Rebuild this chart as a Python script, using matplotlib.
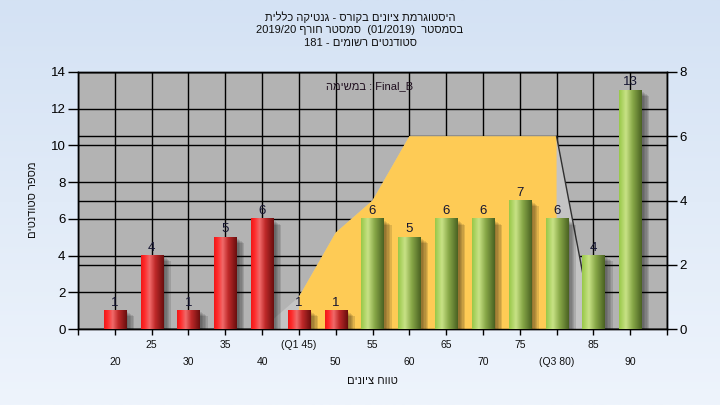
import numpy as np
import matplotlib
matplotlib.use("Agg")
import matplotlib.pyplot as plt
from matplotlib.patches import Rectangle, Polygon

plt.rcParams['font.family'] = ['Liberation Sans', 'DejaVu Sans']

# ---------------- data ----------------
categories = [20, 25, 30, 35, 40, 45, 50, 55, 60, 65, 70, 75, 80, 85, 90]
tick_labels = ["20", "25", "30", "35", "40", "(Q1 45)", "50", "55", "60", "65",
               "70", "75", "(Q3 80)", "85", "90"]
counts = [1, 4, 1, 5, 6, 1, 1, 6, 5, 6, 6, 7, 6, 4, 13]
fail_mask = [True, True, True, True, True, True, True,
             False, False, False, False, False, False, False, False]
# background area series (right axis)
area_vals = [0, 0, 0, 0, 0, 1, 3, 4, 6, 6, 6, 6, 6, 0, 0]
q1_index, q3_index = 5, 12

title_lines = ["היסטוגרמת ציונים בקורס - גנטיקה כללית",
               "בסמסטר  (01/2019)  סמסטר חורף 2019/20",
               "סטודנטים רשומים - 181"]
legend_text = "Final_B : במשימה"
xlabel = "טווח ציונים"
ylabel = "מספר סטודנטים"


def vis(s):
    """Convert logical RTL Hebrew string into visual order for LTR renderer."""
    toks = s.split(' ')
    out = []
    for t in reversed(toks):
        if any('\u0590' <= c <= '\u05FF' for c in t):
            out.append(t[::-1])
        else:
            out.append(t)
    return ' '.join(out)


# ---------------- figure ----------------
fig = plt.figure(figsize=(7.2, 4.05), dpi=100)

# background gradient
bg = fig.add_axes([0, 0, 1, 1], zorder=-10)
grad = np.linspace(0, 1, 256)[:, None]
top_c = np.array([0xD4, 0xE2, 0xF4]) / 255
bot_c = np.array([0xEE, 0xF4, 0xFC]) / 255
img = top_c[None, None, :] * (1 - grad[:, :, None]) + bot_c[None, None, :] * grad[:, :, None]
bg.imshow(img, aspect='auto', extent=[0, 1, 0, 1])
bg.axis('off')

L, R, T, B = 78, 667, 72, 329
ax = fig.add_axes([L / 720, 1 - B / 405, (R - L) / 720, (B - T) / 405])
ax2 = ax.twinx()
ax2.set_zorder(1)
ax.set_zorder(2)
ax.patch.set_visible(False)
ax2.patch.set_visible(True)
ax2.patch.set_facecolor('#B3B3B3')

n = len(categories)
x = np.arange(n)
ax.set_xlim(-1, n)
ax.set_ylim(0, 14)
ax2.set_ylim(0, 8)

# grids
ax.set_axisbelow(True)
ax.set_yticks(np.arange(0, 15, 2))
ax.set_xticks(np.arange(-1, n + 1))
ax.set_xticklabels([])
ax.grid(True, color='black', linewidth=1.0)
ax2.set_yticks(np.arange(0, 9, 2))
ax2.grid(True, axis='y', color='black', linewidth=1.0)

# area series (right axis scale)
pts = [(x[0], 0)] + list(zip(x, area_vals)) + [(x[-1], 0)]
ax.add_patch(Polygon(pts, closed=True, facecolor='#C4C4C4', edgecolor='none',
                     transform=ax2.transData, zorder=1.5))
ypts = [(x[q1_index], 0)] + list(zip(x[q1_index:q3_index + 1], area_vals[q1_index:q3_index + 1])) + [(x[q3_index], 0)]
ax.add_patch(Polygon(ypts, closed=True, facecolor='#FECB55', edgecolor='none',
                     transform=ax2.transData, zorder=1.6))
ax.plot(x[q3_index:q3_index + 2], area_vals[q3_index:q3_index + 2], color='#303030',
        linewidth=1.0, transform=ax2.transData, zorder=1.7)


def make_grad(stops, N=64):
    pos = np.array([s[0] for s in stops])
    cols = np.array([[int(s[1][i:i + 2], 16) / 255 for i in (1, 3, 5)] for s in stops])
    t = np.linspace(0, 1, N)
    arr = np.stack([np.interp(t, pos, cols[:, k]) for k in range(3)], axis=-1)
    return arr[None, :, :]


red_grad = make_grad([(0.0, '#F01818'), (0.15, '#FF2A2A'), (0.38, '#F06a6a'),
                      (0.62, '#C02a2a'), (1.0, '#6A0E0E')])
green_grad = make_grad([(0.0, '#98C848'), (0.3, '#C8E286'), (0.6, '#88A848'),
                        (1.0, '#4A6222')])

w = 0.6
px_x = 1 / 36.8
px_y = 14 / 257
for i, v in enumerate(counts):
    # shadow
    for k, a in enumerate([0.09, 0.09, 0.09, 0.10, 0.12]):
        off = 2.5 + k * 1.4
        ax.add_patch(Rectangle((i - w / 2 + off * px_x, -off * 0.7 * px_y), w, v,
                               facecolor='black', alpha=a, edgecolor='none', zorder=3))
    g = red_grad if fail_mask[i] else green_grad
    ax.imshow(g, extent=[i - w / 2, i + w / 2, 0, v], aspect='auto',
              interpolation='bilinear', zorder=4)
    ax.annotate(str(v), (i, v), xytext=(0, 2), textcoords='offset pixels',
                ha='center', va='bottom', fontsize=9.5, color='#141430', zorder=6)

ax.set_xlim(-1, n)
ax.set_ylim(0, 14)
ax2.set_ylim(0, 8)

# x tick labels in two rows
for i, lab in enumerate(tick_labels):
    off = -33 if i % 2 == 0 else -16
    ax.annotate(lab, (i, 0), xycoords=('data', 'axes fraction'), xytext=(0, off),
                textcoords='offset pixels', ha='center', va='center',
                fontsize=7.5, color='#101010', annotation_clip=False)

for a in (ax, ax2):
    for s in a.spines.values():
        s.set_color('black')
        s.set_linewidth(1.0)
ax.tick_params(axis='y', direction='out', length=7, width=1, labelsize=9.5,
               colors='black', pad=2)
ax.tick_params(axis='x', direction='out', length=4, width=1, colors='black')
ax2.tick_params(axis='y', direction='out', length=7, width=1, labelsize=9.5,
                colors='black', pad=2)

# texts
for k, line in enumerate(title_lines):
    fig.text(0.5, 1 - (17 + 13 * k) / 405, vis(line), ha='center', va='center',
             fontsize=8, color='#101010')
ax.text(0.4955, 0.945, vis(legend_text), transform=ax.transAxes, ha='center',
        va='center', fontsize=8, color='#201020', zorder=7)
fig.text((L + R) / 2 / 720, 1 - 381 / 405, vis(xlabel), ha='center', va='center',
         fontsize=8, color='#101010')
fig.text(33 / 720, 1 - 200 / 405, vis(ylabel), ha='center', va='center',
         rotation=90, fontsize=8, color='#101010')

fig.savefig('out.png', dpi=100)
